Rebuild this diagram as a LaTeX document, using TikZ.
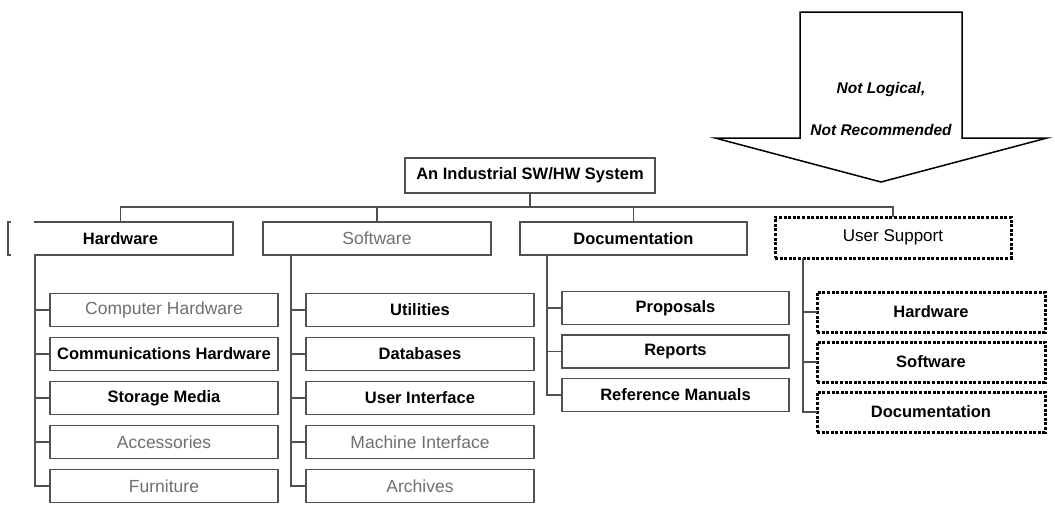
\documentclass[tikz,border=0pt]{standalone}
\usepackage{fontspec}
\setmainfont{Liberation Sans}
\usetikzlibrary{positioning,calc}
\definecolor{LineGray}{RGB}{80,80,80}
\definecolor{PaleText}{RGB}{112,112,112}
\tikzset{
  box/.style={draw=LineGray,line width=1.7pt,fill=white,inner sep=0pt,outer sep=0pt,
    minimum width=228pt,minimum height=33pt,font=\fontsize{17.5}{19}\selectfont},
  dim/.style={text=PaleText},
  strong/.style={font=\fontsize{16.5}{18}\selectfont\bfseries},
  dotbox/.style={draw=black,line width=3pt,dash pattern=on 3pt off 1.6pt,fill=white,
    inner sep=0pt,outer sep=0pt,minimum width=228pt,minimum height=40pt,font=\fontsize{17}{19}\selectfont},
  link/.style={draw=LineGray,line width=1.5pt},
}
\tikzset{note/.style={font=\fontsize{15.5}{17}\selectfont\bfseries\itshape,inner sep=0pt}}

\begin{document}
\begin{tikzpicture}[x=1pt,y=-1pt]
\useasboundingbox (0,0) rectangle (1055,506);
% warning arrow
\draw[line width=1.5pt,fill=white] (800,12) -- (962,12) -- (962,138) -- (1047,138) -- (881,182)
  -- (715,138) -- (800,138) -- cycle;
\node[note] (nl) at (881,89) {Not Logical,};
\node[note,fill=white,minimum width=160pt,minimum height=21pt] (nr) at (881,130) {Not Recommended};
% root and first level
\node[box,strong,minimum width=250pt,minimum height=35pt] (top) at (530,175.5) {An Industrial SW/HW System};
\node[box,strong,minimum width=225pt] (hw) at (120.5,238.5) {Hardware};
\node[box,dim] (sw) at (377,238.5) {Software};
\node[box,strong,minimum width=227pt] (doc) at (633.5,238.5) {Documentation};
\node[dotbox,minimum width=236pt,minimum height=41pt] (us) at (893,237.5) {User Support};
\fill[white] (11,219) rectangle (33.5,258);
\coordinate (bus) at (0,207);
\draw[link] (top.south) -- (top.south |- bus);
\draw[link] (hw.north) -- (hw.north |- bus) -- (us.north |- bus) -- (us.north);
\draw[link] (sw.north) -- (sw.north |- bus);
\draw[link] (doc.north) -- (doc.north |- bus);
% hardware
\node[box,dim] (hw1) at (164,310) {Computer Hardware};
\node[box,strong] (hw2) at (164,354) {Communications Hardware};
\node[box,strong] (hw3) at (164,398) {Storage Media};
\node[box,dim] (hw4) at (164,442) {Accessories};
\node[box,dim] (hw5) at (164,486) {Furniture};
\draw[link] ([xshift=27pt]hw.south west) |- (hw1.west);
\draw[link] ([xshift=27pt]hw.south west) |- (hw2.west);
\draw[link] ([xshift=27pt]hw.south west) |- (hw3.west);
\draw[link] ([xshift=27pt]hw.south west) |- (hw4.west);
\draw[link] ([xshift=27pt]hw.south west) |- (hw5.west);
% software
\node[box,strong] (sw1) at (420,310) {Utilities};
\node[box,strong] (sw2) at (420,354) {Databases};
\node[box,strong] (sw3) at (420,398) {User Interface};
\node[box,dim] (sw4) at (420,442) {Machine Interface};
\node[box,dim] (sw5) at (420,486) {Archives};
\draw[link] ([xshift=28pt]sw.south west) |- (sw1.west);
\draw[link] ([xshift=28pt]sw.south west) |- (sw2.west);
\draw[link] ([xshift=28pt]sw.south west) |- (sw3.west);
\draw[link] ([xshift=28pt]sw.south west) |- (sw4.west);
\draw[link] ([xshift=28pt]sw.south west) |- (sw5.west);
% documentation
\node[box,strong,minimum width=227pt] (doc1) at (675.5,308) {Proposals};
\node[box,strong,minimum width=227pt] (doc2) at (675.5,351.5) {Reports};
\node[box,strong,minimum width=227pt] (doc3) at (675.5,395) {Reference Manuals};
\draw[link] ([xshift=27pt]doc.south west) |- (doc1.west);
\draw[link] ([xshift=27pt]doc.south west) |- (doc2.west);
\draw[link] ([xshift=27pt]doc.south west) |- (doc3.west);
% user support
\node[dotbox,font=\fontsize{16.5}{18}\selectfont\bfseries] (us1) at (931,312) {Hardware};
\node[dotbox,font=\fontsize{16.5}{18}\selectfont\bfseries] (us2) at (931,362) {Software};
\node[dotbox,font=\fontsize{16.5}{18}\selectfont\bfseries] (us3) at (931,412) {Documentation};
\draw[link] ([xshift=28pt]us.south west) |- (us1.west);
\draw[link] ([xshift=28pt]us.south west) |- (us2.west);
\draw[link] ([xshift=28pt]us.south west) |- (us3.west);
\end{tikzpicture}
\end{document}
